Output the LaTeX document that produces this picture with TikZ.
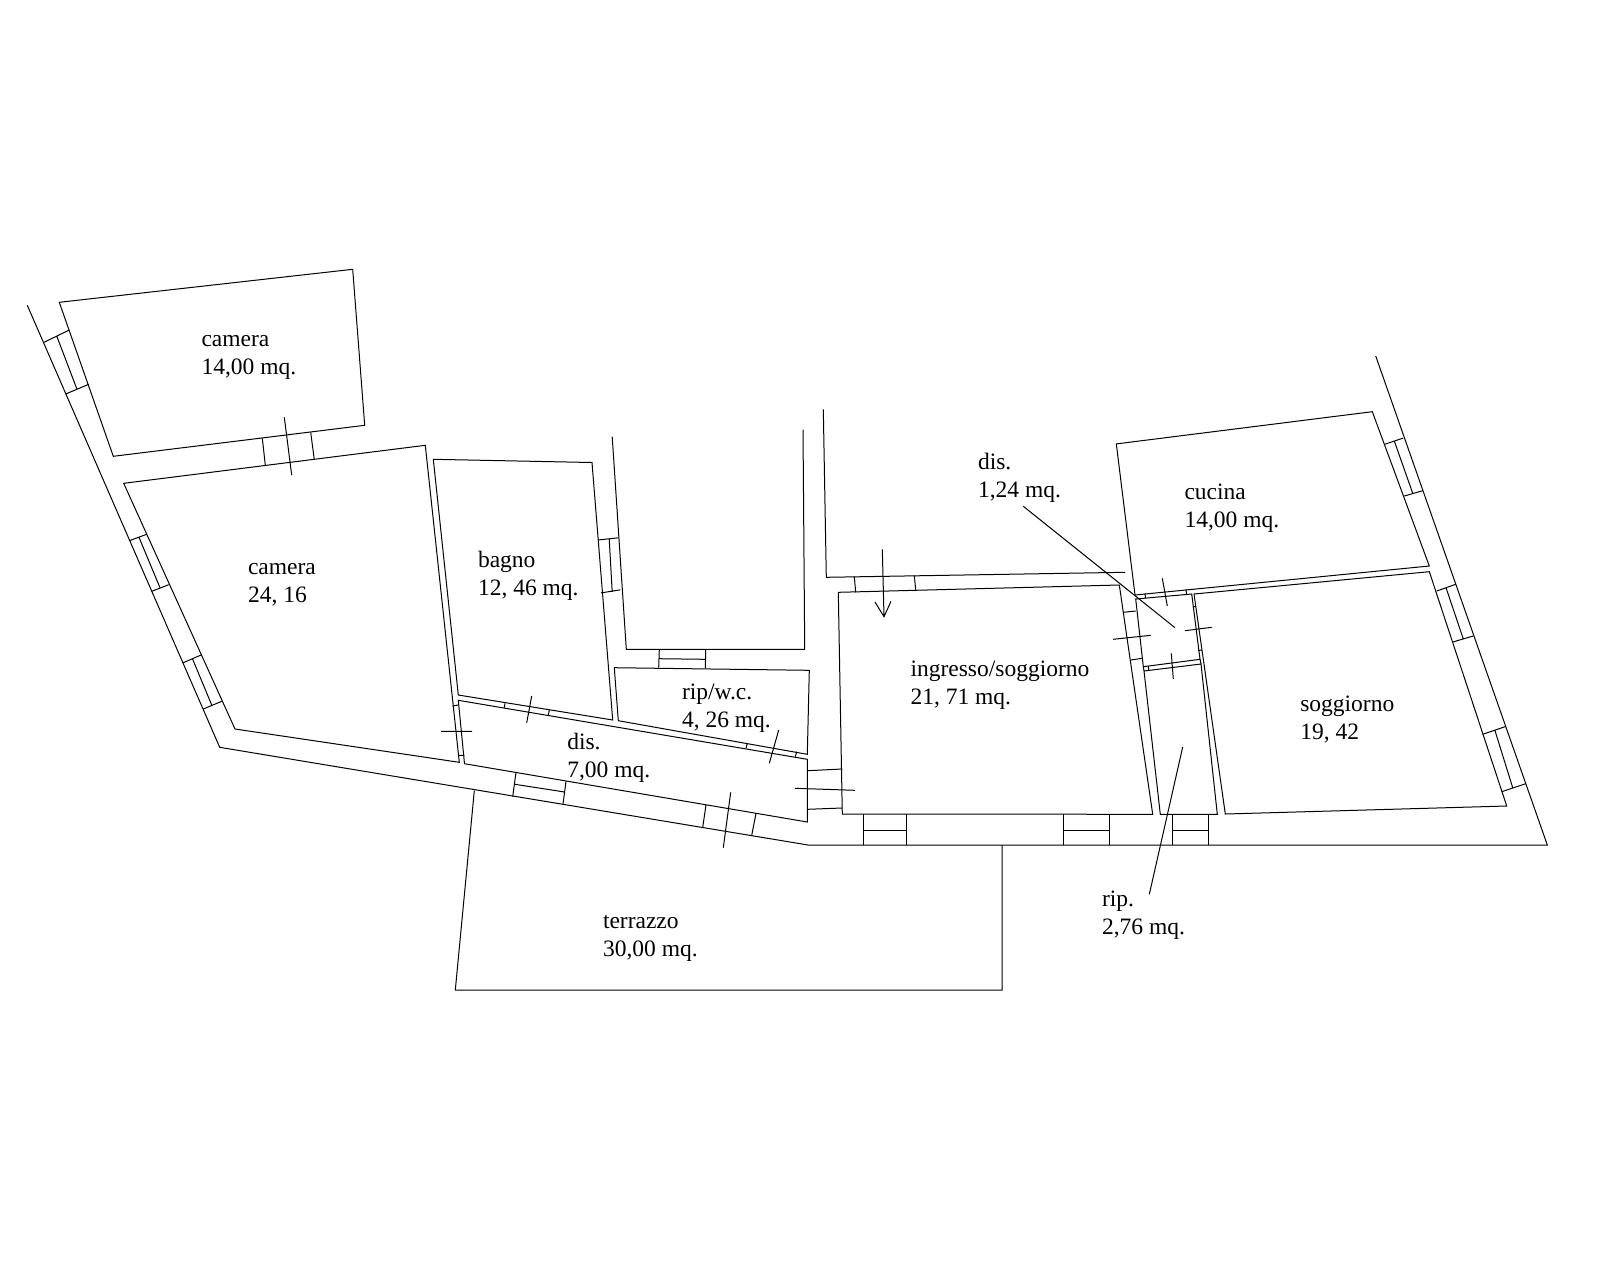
\documentclass[tikz,border=0pt]{standalone}
\usepackage{fontspec}
\setmainfont{Liberation Serif}
\tikzset{
  wall/.style={draw=black,line width=1pt,line join=miter},
  lbl/.style={anchor=north west,inner sep=0pt,outer sep=0pt,align=left,yshift=-0.5pt,
    font=\fontsize{23.5}{28}\selectfont,text=black}
}
\newcommand{\lh}{\rule{0pt}{16pt}}
\begin{document}
\begin{tikzpicture}[x=1pt,y=-1pt]
\fill[white] (0,0) rectangle (1600,1280);
\useasboundingbox (0,0) rectangle (1600,1280);
% outer wall
\draw[wall] (27.3,305.3) -- (219.7,747.3) -- (808,845) -- (1547.3,845) -- (1375.7,356);
% camera 14
\draw[wall] (59.3,302.3) -- (352.7,269.3) -- (364.7,425.3) -- (113.3,456.3) -- cycle;
% camera 24
\draw[wall] (123.7,483.3) -- (425.3,445.3) -- (459.3,762.3) -- (235,729) -- cycle;
% bagno
\draw[wall] (433.3,459.3) -- (592,462.5) -- (612.7,720) -- (458.3,695) -- cycle;
% dis
\draw[wall] (458.3,700.3) -- (807.3,759.3) -- (807.3,822) -- (464.5,763.7) -- cycle;
% rip/w.c.
\draw[wall] (614.3,667.7) -- (809.3,670.3) -- (807.3,754.3) -- (618.3,720.7) -- cycle;
% courtyard
\draw[wall] (612.2,436.7) -- (626.3,649.3) -- (804.7,649.3) -- (803,429.6);
\draw[wall] (823.3,409.3) -- (826.3,577.3) -- (1125,572.3);
% ingresso
\draw[wall] (838.3,592.3) -- (1119.3,585) -- (1152.7,814.3) -- (842.3,814) -- cycle;
% cucina
\draw[wall] (1116.3,443.9) -- (1372.3,411.7) -- (1429.3,566) -- (1135,595) -- cycle;
% soggiorno
\draw[wall] (1194,594) -- (1429.3,571.7) -- (1506.7,806) -- (1225.3,814) -- cycle;
% dis small
\draw[wall] (1135.7,599) -- (1191.7,594) -- (1200,659.3) -- (1143.3,666.7) -- cycle;
% rip
\draw[wall] (1144,671) -- (1201,664) -- (1217.3,814.3) -- (1160.3,814.3) -- cycle;
\draw[wall] (1143.3,666.7) -- (1144,671) (1200,659.3) -- (1201,664);
% terrazzo
\draw[wall] (474.3,790.7) -- (455.3,990) -- (1002,990) -- (1002,845);
% windows left
\draw[wall] (44,342.3) -- (69.3,330) (65.7,394) -- (88.7,384.3) (56.7,336) -- (77,389.3);
\draw[wall] (129.3,540.7) -- (146.7,534.3) (151.7,591.3) -- (168.7,584.7) (139,537.3) -- (160,587.7);
\draw[wall] (183.3,662.7) -- (201,655) (203.3,709) -- (221.7,701.3) (192.7,659.3) -- (212,705.7);
% door camera-camera
\draw[wall] (262.3,438.3) -- (265.3,465) (310.7,432.3) -- (314.3,459.7) (284.3,417.3) -- (291.7,475);
% bagno window
\draw[wall] (598,540) -- (618.4,537.8) (601,592.9) -- (620.4,589.8) (609.2,538.8) -- (612.2,591.8);
% courtyard door
\draw[wall] (659.3,649.3) -- (658.7,667.7) (705.7,649.3) -- (705.3,668) (658.7,658.7) -- (705.3,659.3);
% camera-dis door
\draw[wall] (452.7,706) -- (458.3,705) (459,755.3) -- (464.3,755.3) (441,731.3) -- (472,731.3);
% bagno-dis door
\draw[wall] (505,703.3) -- (504.3,707.7) (549.3,710) -- (548.3,715) (531.7,696) -- (526.7,722.7);
% rip-dis door
\draw[wall] (747.3,743.3) -- (746,748.3) (796.7,751.7) -- (795.3,756.7) (778.7,730) -- (769.3,763.3);
% dis bottom windows
\draw[wall] (516,772.3) -- (512.7,796.7) (566,781.3) -- (563,804) (515,784.3) -- (564.7,792);
\draw[wall] (706,805) -- (702.7,827.3) (756,813.3) -- (751.7,835.3) (730.7,792.3) -- (723.3,847.7);
% dis-ingresso door
\draw[wall] (807.3,770.7) -- (842.3,769) (807.3,809.3) -- (842.3,808) (795,788.3) -- (855,790.3);
% entry door and arrow
\draw[wall] (854.3,576.7) -- (855.7,592.3) (914.3,575.7) -- (915.7,590);
\draw[wall] (882.3,549.3) -- (884,616.7) (875,602) -- (884,616.7) -- (891,601.3);
% bottom windows
\draw[wall] (863.3,814.3) -- (863.3,845) (906,814.3) -- (906,845) (863.3,830) -- (906,830);
\draw[wall] (1063.3,814.3) -- (1063.3,845) (1109.3,814.3) -- (1109.3,845) (1063.3,830) -- (1109.3,830);
\draw[wall] (1172.3,814.3) -- (1172.3,845) (1208.3,814.3) -- (1208.3,845) (1172.3,830) -- (1208.3,830);
% small dis doors
\draw[wall] (1123.3,612.3) -- (1135.7,611) (1130.7,660) -- (1142.3,658.3) (1113,639.3) -- (1150.7,635.3);
\draw[wall] (1145,593.3) -- (1145.5,598.2) (1186,589.3) -- (1186.5,594.5) (1162.3,578.3) -- (1167.3,606);
\draw[wall] (1193,606.7) -- (1195.7,606.4) (1198,650.5) -- (1201.8,650) (1185,630.7) -- (1211.7,627.3);
\draw[wall] (1148.3,666.3) -- (1148.7,670.5) (1171.3,653.3) -- (1173.3,679);
% right windows
\draw[wall] (1384.7,444.3) -- (1403.3,438) (1404.3,496) -- (1422.7,490.7) (1394.3,441) -- (1412.7,493.3);
\draw[wall] (1436.7,591) -- (1455.7,584.3) (1452.7,642) -- (1473.3,636) (1446,587.7) -- (1463.3,639);
\draw[wall] (1482.7,734.3) -- (1505,726.7) (1501.7,791.7) -- (1525.7,783.7) (1495,730.7) -- (1512.7,787.7);
% leaders
\draw[wall] (1023.3,506.3) -- (1175,627.7);
\draw[wall] (1182.7,747) -- (1149.3,894.3);
% labels
\node[lbl] (t1) at (201.5,330) {\lh camera\\14,00 mq.};
\node[lbl] (t2) at (248,557.5) {\lh camera\\24, 16};
\node[lbl] (t3) at (478,550.7) {\lh bagno\\12, 46 mq.};
\node[lbl] (t4) at (567.3,733) {\lh dis.\\7,00 mq.};
\node[lbl] (t5) at (682,682.7) {\lh rip/w.c.\\4, 26 mq.};
\node[lbl] (t6) at (603,912.3) {\lh terrazzo\\30,00 mq.};
\node[lbl] (t7) at (1184.5,483) {\lh cucina\\14,00 mq.};
\node[lbl] (t8) at (1300.3,694.7) {\lh soggiorno\\19, 42};
\node[lbl] (t9) at (910.5,659.7) {\lh ingresso/soggiorno\\21, 71 mq.};
\node[lbl] (t10) at (978,453) {\lh dis.\\1,24 mq.};
\node[lbl] (t11) at (1102,889.7) {\lh rip.\\2,76 mq.};
\end{tikzpicture}
\end{document}
